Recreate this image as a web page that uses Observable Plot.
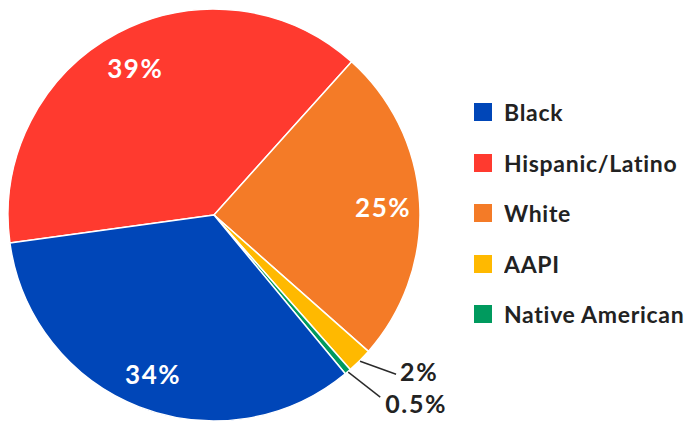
<!DOCTYPE html>
<html><head><meta charset="utf-8">
<script src="https://cdn.jsdelivr.net/npm/d3@7"></script>
<script src="https://cdn.jsdelivr.net/npm/@observablehq/plot@0.6"></script>
<style>
  html, body { margin: 0; padding: 0; background: #fff; }
  #chart { position: relative; width: 688px; height: 422px; font-family: Lato, sans-serif; }
  #legend { position: absolute; left: 474px; top: 87px; }
  #legend > div { margin: 0 !important; }
  div.lg-swatch { height: 50.5px; display: flex; align-items: center; padding: 0 !important; margin: 0 !important; }
  div.lg-swatch svg { margin-right: 12px !important; flex-shrink: 0; }
  #legend div { letter-spacing: 0.7px; }
  #chart svg g[aria-label="text"] text { letter-spacing: 1.6px; }
</style></head>
<body><div id="chart"><div id="legend"></div></div>
<script>
// ---- data ----
const groups = ["Hispanic/Latino", "White", "AAPI", "Native American", "Black"];
const shares = [39, 25, 2, 0.5, 34];
const shareLabels = ["39%", "25%", "2%", "0.5%", "34%"];
const insideGroups = ["Hispanic/Latino", "White", "Black"];
const outsideGroups = ["AAPI", "Native American"];
const legendGroups = ["Black", "Hispanic/Latino", "White", "AAPI", "Native American"];
const legendColors = ["#0046B8", "#FF3A2F", "#F47B27", "#FFB900", "#009A5E"];

// ---- layout ----
const W = 688, H = 422, CX = 214, CY = 215, R = 206;
const startAngle = -97.8 * Math.PI / 180;
const labelRadius = 0.82;
const outsideNudge = {"AAPI": {line: [36, 13], text: [4, -1]}, "Native American": {line: [32, 25], text: [5, 8]}};

const color = Plot.scale({color: {type: "ordinal", domain: legendGroups, range: legendColors}});
const rows = groups.map((g, i) => ({group: g, share: shares[i], label: shareLabels[i]}));
const arcs = d3.pie().sort(null).value(d => d.share).startAngle(startAngle).endAngle(startAngle + 2 * Math.PI)(rows);
const mid = a => (a.startAngle + a.endAngle) / 2;

const inside = arcs.filter(a => insideGroups.includes(a.data.group)).map(a => ({
  text: a.data.label, x: labelRadius * Math.sin(mid(a)), y: labelRadius * Math.cos(mid(a))
}));
const outside = arcs.filter(a => outsideGroups.includes(a.data.group)).map(a => {
  const n = outsideNudge[a.data.group];
  const x1 = Math.sin(mid(a)), y1 = Math.cos(mid(a));
  const x2 = x1 + n.line[0] / R, y2 = y1 - n.line[1] / R;
  return {text: a.data.label, x1, y1, x2, y2, tx: x2 + n.text[0] / R, ty: y2 - n.text[1] / R};
});

const pieMark = (index, scales) => {
  const cx = scales.x(0), cy = scales.y(0), r = scales.x(1) - scales.x(0);
  const arc = d3.arc().innerRadius(0).outerRadius(r);
  const g = d3.create("svg:g").attr("transform", `translate(${cx},${cy})`);
  g.selectAll("path").data(arcs).join("path")
    .attr("d", arc)
    .attr("fill", d => color.apply(d.data.group))
    .attr("stroke", "#fff").attr("stroke-width", 1.5).attr("stroke-linejoin", "round");
  return g.node();
};

const font = {fontFamily: "Lato, sans-serif", fontWeight: 700};
const plot = Plot.plot({
  width: W, height: H, margin: 0,
  x: {domain: [-CX / R, (W - CX) / R], axis: null},
  y: {domain: [-(H - CY) / R, CY / R], axis: null},
  style: {background: "transparent", overflow: "visible"},
  marks: [
    pieMark,
    Plot.text(inside, {x: "x", y: "y", text: "text", fill: "#fff", fontSize: 26, ...font, textAnchor: "middle", lineAnchor: "middle", dx: 0, dy: 3}),
    Plot.link(outside, {x1: "x1", y1: "y1", x2: "x2", y2: "y2", stroke: "#2a2a2a", strokeWidth: 1.4}),
    Plot.text(outside, {x: "tx", y: "ty", text: "text", fill: "#222", fontSize: 25, ...font, textAnchor: "start", lineAnchor: "middle"})
  ]
});
document.getElementById("chart").prepend(plot);

const legend = Plot.legend({
  color: {type: "ordinal", domain: legendGroups, range: legendColors},
  legend: "swatches", columns: 1, swatchSize: 18, className: "lg",
  style: {fontFamily: "Lato, sans-serif", fontWeight: "700", fontSize: "23px", color: "#222", margin: "0"}
});
document.getElementById("legend").appendChild(legend);
</script>
</body></html>
